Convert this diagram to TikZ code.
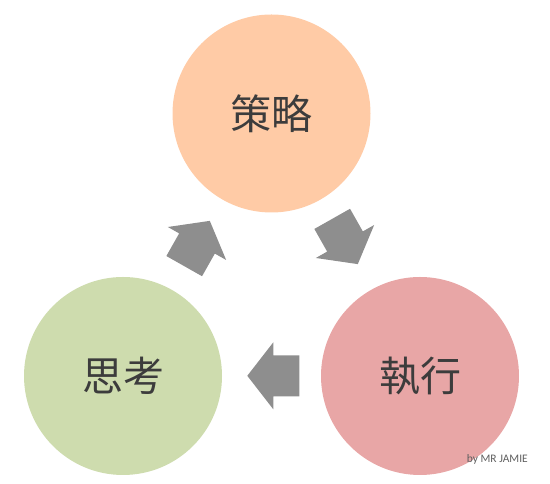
\documentclass[tikz,border=0pt]{standalone}
\usepackage{fontspec}
\newfontfamily\cjk{Noto Sans CJK TC}
\newfontfamily\credit{Carlito}
\usetikzlibrary{calc}
\definecolor{peach}{RGB}{255,203,166}
\definecolor{sage}{RGB}{206,220,174}
\definecolor{rose}{RGB}{232,166,166}
\definecolor{arrowgray}{RGB}{142,142,142}
\definecolor{textgray}{RGB}{60,60,60}
\definecolor{creditgray}{RGB}{95,95,95}
\tikzset{
  bubble/.style={circle, inner sep=0pt, minimum size=198pt, draw=none, text=textgray,
    font=\cjk\fontsize{41}{48}\selectfont},
  blockarrow/.pic={\fill[arrowgray] (-26,-20.5) -- (0,-20.5) -- (0,-33.5) -- (26,0) -- (0,33.5) -- (0,20.5) -- (-26,20.5) -- cycle;}
}
\begin{document}
\begin{tikzpicture}[x=1pt,y=1pt]
\useasboundingbox (0,0) rectangle (550,484);
\node[bubble, fill=peach] (top) at (271.5,370.5) {策略};
\node[bubble, fill=sage] (left) at (123,108) {思考};
\node[bubble, fill=rose] (right) at (420,108) {執行};
\pic[rotate=60.5] at (197,240.5) {blockarrow};
\pic[rotate=-60.5] at (345,242.5) {blockarrow};
\pic[rotate=180] at (273.3,108.2) {blockarrow};
\node[font=\credit\fontsize{11.5}{13}\selectfont, text=creditgray, inner sep=0pt, anchor=east] (credit) at (528,25) {by MR JAMIE};
\end{tikzpicture}
\end{document}
